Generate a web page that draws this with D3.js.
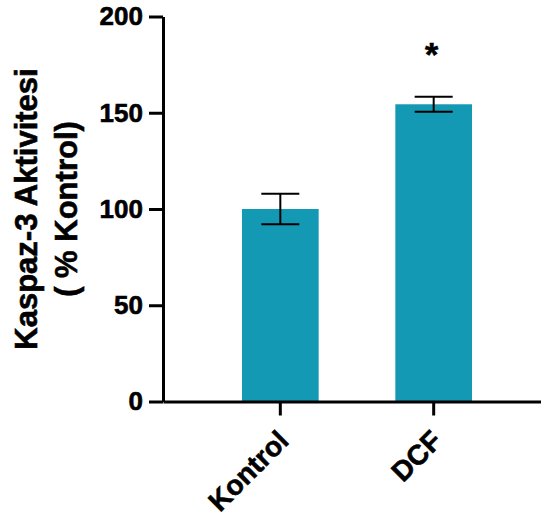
<!DOCTYPE html>
<html>
<head>
<meta charset="utf-8">
<script src="https://cdn.jsdelivr.net/npm/d3@7"></script>
<style>
  body { margin: 0; background: #fff; }
  text { font-family: "Liberation Sans", Arial, sans-serif; font-weight: bold; fill: #000; stroke: #000; stroke-width: 0.6px; }
</style>
</head>
<body>
<div id="chart"></div>
<script>
var width = 541, height = 518;

// data
var groups = ["Kontrol", "DCF"];
var means = [100, 154.4];
var errors = [7.9, 3.9];
var marks = ["", "*"];
var yTicks = [0, 50, 100, 150, 200];

var plotLeft = 163, plotTop = 16.5, plotBottom = 401.5;

var x = d3.scaleBand()
    .domain(groups)
    .range([plotLeft, 551])
    .paddingInner(0.5)
    .paddingOuter(0.515);

var y = d3.scaleLinear()
    .domain([0, 200])
    .range([plotBottom, plotTop]);

var data = groups.map((g, i) => ({ name: g, mean: means[i], err: errors[i], mark: marks[i] }));

var svg = d3.select("#chart").append("svg")
    .attr("width", width)
    .attr("height", height);

// bars
svg.append("g")
    .selectAll("rect")
    .data(data)
    .enter().append("rect")
    .attr("x", d => x(d.name))
    .attr("width", x.bandwidth())
    .attr("y", d => y(d.mean))
    .attr("height", d => y(0) - y(d.mean))
    .attr("fill", "#1399b3");

// error bars
var capW = 19;
var eb = svg.append("g")
    .attr("stroke", "#000")
    .attr("stroke-width", 2)
    .selectAll("g")
    .data(data)
    .enter().append("g")
    .attr("transform", d => `translate(${x(d.name) + x.bandwidth() / 2},0)`);
eb.append("line")
    .attr("y1", d => y(d.mean + d.err))
    .attr("y2", d => y(d.mean - d.err));
eb.append("line")
    .attr("x1", -capW).attr("x2", capW)
    .attr("y1", d => y(d.mean + d.err)).attr("y2", d => y(d.mean + d.err));
eb.append("line")
    .attr("x1", -capW).attr("x2", capW)
    .attr("y1", d => y(d.mean - d.err)).attr("y2", d => y(d.mean - d.err));

// significance marks
svg.append("g")
    .selectAll("text")
    .data(data.filter(d => d.mark))
    .enter().append("text")
    .attr("x", d => x(d.name) + x.bandwidth() / 2 - 2)
    .attr("y", d => y(d.mean + d.err) - 31)
    .attr("text-anchor", "middle")
    .style("font-size", "34px")
    .text(d => d.mark);

// y axis
var yAxis = svg.append("g")
    .attr("transform", `translate(${plotLeft},0)`)
    .call(d3.axisLeft(y).tickValues(yTicks).tickSize(14).tickSizeOuter(0).tickPadding(6));
yAxis.select(".domain").attr("stroke-width", 3);
yAxis.selectAll(".tick line").attr("stroke-width", 3);
yAxis.selectAll(".tick text")
    .style("font-size", "26px")
    .style("font-family", '"Liberation Sans", Arial, sans-serif')
    .style("font-weight", "bold")
    .attr("fill", "#000");

// x axis
var xAxis = svg.append("g")
    .attr("transform", `translate(0,${plotBottom})`)
    .call(d3.axisBottom(x).tickSize(14).tickSizeOuter(0));
xAxis.select(".domain").attr("stroke-width", 3);
xAxis.selectAll(".tick line").attr("stroke-width", 3);
xAxis.selectAll(".tick text")
    .style("font-size", "28px")
    .style("font-family", '"Liberation Sans", Arial, sans-serif')
    .style("font-weight", "bold")
    .attr("fill", "#000")
    .attr("text-anchor", "end")
    .attr("dy", null)
    .attr("y", null)
    .attr("transform", "translate(10,41) rotate(-45)");

// y title, two lines
var mid = (plotTop + plotBottom) / 2;
var title = svg.append("text")
    .attr("transform", `translate(37,${mid}) rotate(-90)`)
    .attr("text-anchor", "middle")
    .style("font-size", "31px");
title.append("tspan").attr("x", 0).attr("y", 0).text("Kaspaz-3 Aktivitesi");
title.append("tspan").attr("x", 0).attr("y", 40).text("( % Kontrol)");
</script>
</body>
</html>
